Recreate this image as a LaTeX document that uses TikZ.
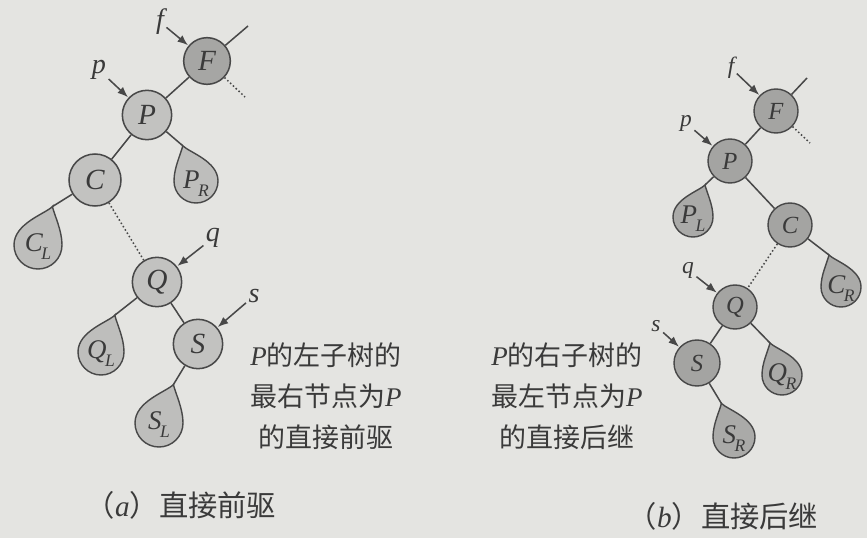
\documentclass[tikz,border=0pt]{standalone}
\usepackage{fontspec}
\setmainfont{Liberation Serif}
\newfontfamily\cjk{Noto Sans CJK SC}
\usetikzlibrary{arrows.meta}
\definecolor{bg}{HTML}{E4E4E1}
\definecolor{ln}{HTML}{484848}
\definecolor{txt}{HTML}{3A3A3A}
\definecolor{nfillL}{HTML}{C2C2C0}
\definecolor{nfillF}{HTML}{A6A6A4}
\definecolor{nfillR}{HTML}{A4A4A2}
\definecolor{tfillL}{HTML}{BEBEBC}
\definecolor{tfillR}{HTML}{AAAAA8}
\newcommand\iP{{\rmfamily\itshape P}}
\newcommand\subl[2]{#1\kern-0.06em\raisebox{-0.3em}{\fontsize{15}{15}\selectfont #2}}
\newcommand\mytear[5]{%
  \begin{scope}[shift={#1}, scale=#2, xscale=#3]
    \draw[tline, fill=#4] (0.6,-1.6) .. controls (0.3,-1.3) and (-1,-0.9) .. (-1,0)
      arc[start angle=180, end angle=0, radius=1]
      .. controls (1,-0.6) and (0.7,-1.2) .. cycle;
    \coordinate (#5) at (0.6,-1.6);
  \end{scope}}
\tikzset{
  tline/.style={draw=ln, line width=1.2pt},
  nL/.style={circle, draw=ln, line width=1.3pt, fill=nfillL, minimum size=1.48cm, inner sep=0pt, text=txt, font=\fontsize{25}{25}\selectfont\itshape},
  nR/.style={circle, draw=ln, line width=1.2pt, fill=nfillR, minimum size=1.32cm, inner sep=0pt, text=txt, font=\fontsize{21}{21}\selectfont\itshape},
  edge/.style={draw=ln, line width=1.3pt},
  dots/.style={draw=ln, line width=1.3pt, dotted},
  ptr/.style={draw=ln, line width=1.3pt, -{Latex[length=9pt,width=7pt]}, shorten >=0.5pt},
  lblL/.style={font=\fontsize{24}{24}\selectfont\itshape, text=txt, inner sep=2pt},
  lblR/.style={font=\fontsize{20}{20}\selectfont\itshape, text=txt, inner sep=2pt},
  tlab/.style={font=\fontsize{23}{23}\selectfont\itshape, text=txt, inner sep=0pt},
  desc/.style={font=\cjk\fontsize{23}{35}\selectfont, text=txt, align=center, inner sep=0pt},
  capt/.style={font=\cjk\fontsize{25}{25}\selectfont, text=txt, inner sep=0pt}
}
\begin{document}
\begin{tikzpicture}[x=0.03cm, y=-0.03cm]
\fill[bg] (0,0) rectangle (867,538);
\useasboundingbox (0,0) rectangle (867,538);

% ---------- (a) ----------
\mytear{(196,181)}{22}{-1}{tfillL}{PRt}
\mytear{(38,245)}{24}{1}{tfillL}{CLt}
\mytear{(101,352)}{23}{1}{tfillL}{QLt}
\mytear{(159,423)}{24}{1}{tfillL}{SLt}
\node[tlab] (PR) at (196,184) {\subl{P}{R}};
\node[tlab] (CL) at (38,247) {\subl{C}{L}};
\node[tlab] (QL) at (101,354) {\subl{Q}{L}};
\node[tlab] (SL) at (159,425) {\subl{S}{L}};

\node[nL, fill=nfillF, minimum size=1.4cm] (F) at (207,61) {F};
\node[nL] (P) at (147,115) {P};
\node[nL, minimum size=1.56cm] (C) at (95,180) {C};
\node[nL] (Q) at (157,282) {Q};
\node[nL] (S) at (198,344) {S};
\coordinate (Fu) at (248,26);
\coordinate (Fd) at (245,97);

\draw[edge] (F) -- (Fu);
\draw[dots] (F) -- (Fd);
\draw[edge] (F) -- (P);
\draw[edge] (P) -- (C);
\draw[edge] (P) -- (PRt);
\draw[edge] (C) -- (CLt);
\draw[dots] (C) -- (Q);
\draw[edge] (Q) -- (QLt);
\draw[edge] (Q) -- (S);
\draw[edge] (S) -- (SLt);

\node[lblL] (fa) at (160,22) {f};
\node[lblL] (pa) at (99,70) {p};
\node[lblL] (qa) at (213,238) {q};
\node[lblL] (sa) at (254,296) {s};
\draw[ptr] (fa) -- (F);
\draw[ptr] (pa) -- (P);
\draw[ptr] (qa) -- (Q);
\draw[ptr] (sa) -- (S);

\node[desc] (ta) at (326,396) {\iP 的左子树的\\最右节点为\iP\\的直接前驱};
\node[capt] (ca) at (181,505) {（{\rmfamily\itshape a}）直接前驱};

% ---------- (b) ----------
\mytear{(693,217)}{20}{1}{tfillR}{PLt}
\mytear{(841,287)}{20}{-1}{tfillR}{CRt}
\mytear{(782,375)}{20}{-1}{tfillR}{QRt}
\mytear{(734,437)}{21}{-1}{tfillR}{SRt}
\node[tlab] (PL) at (693,219) {\subl{P}{L}};
\node[tlab] (CR) at (841,289) {\subl{C}{R}};
\node[tlab] (QR) at (782,377) {\subl{Q}{R}};
\node[tlab] (SR) at (734,439) {\subl{S}{R}};

\node[nR] (F2) at (776,111) {F};
\node[nR] (P2) at (730,161) {P};
\node[nR] (C2) at (790,225) {C};
\node[nR] (Q2) at (735,307) {Q};
\node[nR, minimum size=1.38cm] (S2) at (697,363) {S};
\coordinate (Fu2) at (807,78);
\coordinate (Fd2) at (810,143);

\draw[edge] (F2) -- (Fu2);
\draw[dots] (F2) -- (Fd2);
\draw[edge] (F2) -- (P2);
\draw[edge] (P2) -- (PLt);
\draw[edge] (P2) -- (C2);
\draw[edge] (C2) -- (CRt);
\draw[dots] (C2) -- (Q2);
\draw[edge] (Q2) -- (S2);
\draw[edge] (Q2) -- (QRt);
\draw[edge] (S2) -- (SRt);

\node[lblR] (fb) at (731,68) {f};
\node[lblR] (pb) at (686,123) {p};
\node[lblR] (qb) at (688,270) {q};
\node[lblR] (sb) at (656,326) {s};
\draw[ptr] (fb) -- (F2);
\draw[ptr] (pb) -- (P2);
\draw[ptr] (qb) -- (Q2);
\draw[ptr] (sb) -- (S2);

\node[desc] (tb) at (567,396) {\iP 的右子树的\\最左节点为\iP\\的直接后继};
\node[capt] (cb) at (723,516) {（{\rmfamily\itshape b}）直接后继};
\end{tikzpicture}
\end{document}
